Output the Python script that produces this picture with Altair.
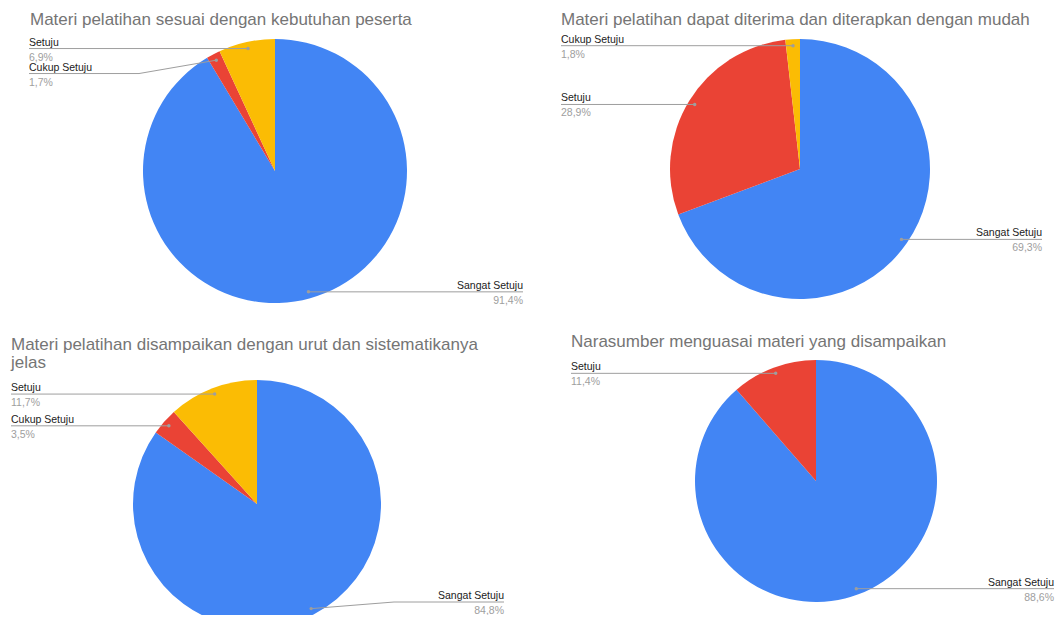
import textwrap
import altair as alt
import pandas as pd

# ---------------- data ----------------
titles = [
    "Materi pelatihan sesuai dengan kebutuhan peserta",
    "Materi pelatihan dapat diterima dan diterapkan dengan mudah",
    "Materi pelatihan disampaikan dengan urut dan sistematikanya jelas",
    "Narasumber menguasai materi yang disampaikan",
]
categories_1 = ["Sangat Setuju", "Cukup Setuju", "Setuju"]
values_1 = [91.4, 1.7, 6.9]
categories_2 = ["Sangat Setuju", "Setuju", "Cukup Setuju"]
values_2 = [69.3, 28.9, 1.8]
categories_3 = ["Sangat Setuju", "Cukup Setuju", "Setuju"]
values_3 = [84.8, 3.5, 11.7]
categories_4 = ["Sangat Setuju", "Setuju"]
values_4 = [88.6, 11.4]

all_cats = [categories_1, categories_2, categories_3, categories_4]
all_vals = [values_1, values_2, values_3, values_4]

rows = []
for p, (cats, vals) in enumerate(zip(all_cats, all_vals)):
    for i, (c, v) in enumerate(zip(cats, vals)):
        rows.append({"panel": p, "idx": i, "category": c, "value": v})
df = pd.DataFrame(rows)

# ---------------- layout / style ----------------
M = 8  # page margin
W, H = 1047, 607
layout = [
    dict(cx=275, cy=171, r=132, left=29, right=523, tx=30, ty=25),
    dict(cx=800, cy=169, r=130, left=561, right=1042, tx=561, ty=25),
    dict(cx=257, cy=504, r=124, left=11, right=504, tx=11, ty=350),
    dict(cx=816, cy=481, r=121, left=571, right=1054, tx=571, ty=347),
]
COLORS = ["#4285F4", "#EA4335", "#FBBC04"]
GRAY = "#9e9e9e"
FONT = "Liberation Sans"
GAP = 25
BEND = 110
MAX_LY = H - 13

layers = []
for p, L in enumerate(layout):
    cx, cy, r = L["cx"] - M, L["cy"] - M, L["r"]
    left, right = L["left"] - M, L["right"] - M
    base = alt.Chart(df).transform_filter(alt.datum.panel == p)

    pie = base.mark_arc(outerRadius=r, strokeWidth=0).encode(
        theta=alt.Theta("value:Q", stack=True),
        color=alt.Color("idx:N", scale=alt.Scale(domain=[0, 1, 2], range=COLORS), legend=None),
        order=alt.Order("idx:Q"),
        x=alt.value(cx),
        y=alt.value(cy),
    )
    layers.append(pie)

    lab = (
        base.transform_joinaggregate(total="sum(value)")
        .transform_window(cum="sum(value)", sort=[alt.SortField("idx")], frame=[None, 0])
        .transform_calculate(mid="2*PI*(datum.cum - datum.value/2)/datum.total")
        .transform_calculate(
            dotx=f"{cx} + {0.95 * r}*sin(datum.mid)",
            doty=f"{cy} - {0.95 * r}*cos(datum.mid)",
            side="datum.mid > PI ? 'left' : 'right'",
            pct="replace(format(datum.value, '.1f'), '.', ',') + '%'",
        )
        .transform_window(rn="row_number()", groupby=["side"], sort=[alt.SortField("doty")])
        .transform_calculate(v=f"datum.doty - {GAP}*datum.rn")
        .transform_window(vmax="max(v)", groupby=["side"], sort=[alt.SortField("doty")], frame=[None, 0])
        .transform_calculate(
            ly=f"min(datum.vmax + {GAP}*datum.rn, {MAX_LY})",
            lx=f"datum.side == 'left' ? {left} : {right}",
            bx=f"datum.side == 'left' ? {left + BEND} : {right - BEND}",
        )
    )
    X = lambda f: alt.X(f"{f}:Q", scale=None)
    Y = lambda f: alt.Y(f"{f}:Q", scale=None)

    layers.append(lab.mark_rule(color=GRAY, strokeWidth=1).encode(x=X("lx"), x2="bx:Q", y=Y("ly")))
    layers.append(lab.mark_rule(color=GRAY, strokeWidth=1).encode(x=X("bx"), x2="dotx:Q", y=Y("ly"), y2="doty:Q"))
    layers.append(lab.mark_circle(size=12, color=GRAY, opacity=1).encode(x=X("dotx"), y=Y("doty")))
    for side, align in (("left", "left"), ("right", "right")):
        sub = lab.transform_filter(alt.datum.side == side)
        layers.append(
            sub.mark_text(align=align, baseline="alphabetic", dy=-3, fontSize=10.5, font=FONT, color="#212121")
            .encode(x=X("lx"), y=Y("ly"), text="category:N")
        )
        layers.append(
            sub.mark_text(align=align, baseline="alphabetic", dy=12, fontSize=10.5, font=FONT, color=GRAY)
            .encode(x=X("lx"), y=Y("ly"), text="pct:N")
        )

    lines = textwrap.wrap(titles[p], 60)
    layers.append(
        alt.Chart(pd.DataFrame({"t": [p]}))
        .mark_text(align="left", baseline="alphabetic", fontSize=17, font=FONT, color="#757575", lineHeight=18)
        .encode(x=alt.value(L["tx"] - M), y=alt.value(L["ty"] - M), text=alt.value(lines if len(lines) > 1 else lines[0]))
    )

chart = (
    alt.layer(*layers)
    .resolve_scale(theta="independent")
    .properties(width=W, height=H, autosize=alt.AutoSizeParams(type="none"), padding=0)
    .configure_view(stroke=None)
)

chart.save("out.html", embed_options={"renderer": "svg", "actions": False})
